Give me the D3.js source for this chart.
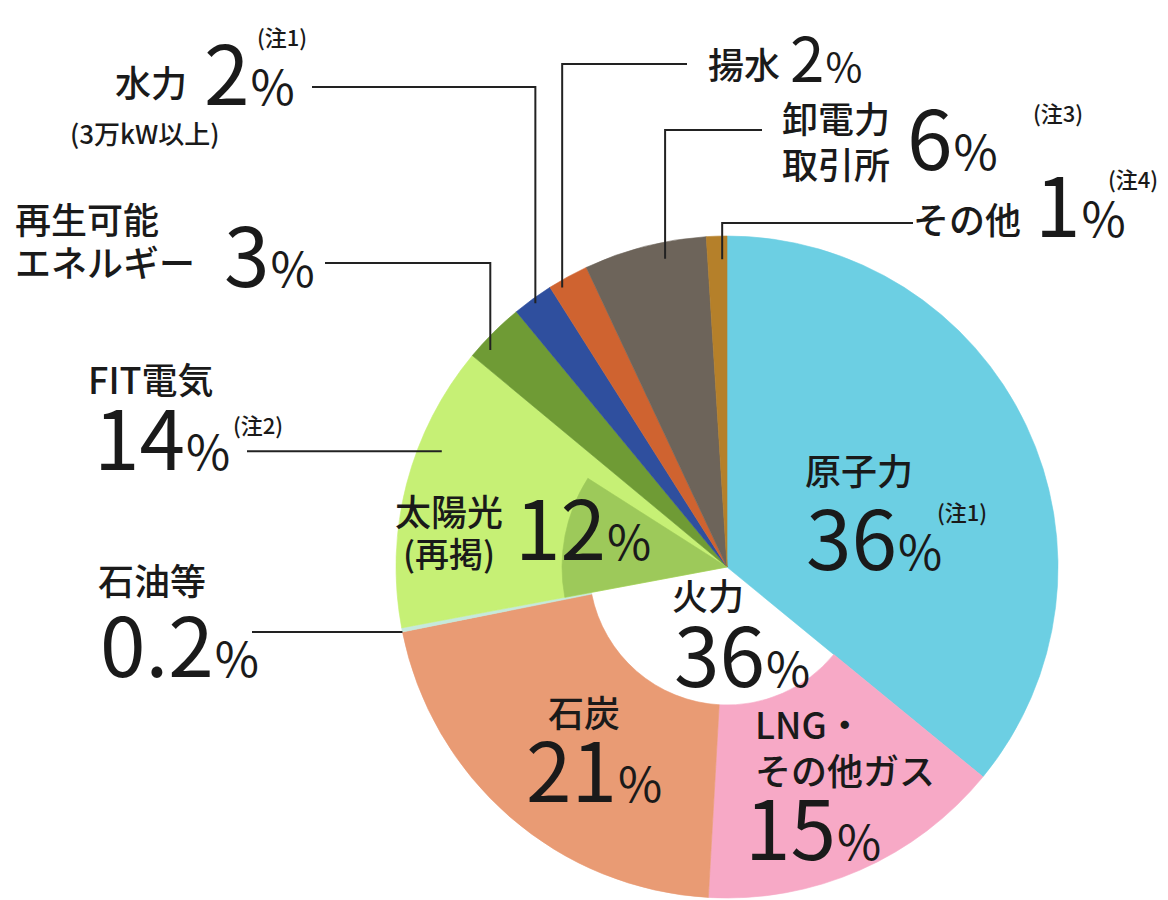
<!DOCTYPE html>
<html lang="ja">
<head>
<meta charset="utf-8">
<script src="https://cdn.jsdelivr.net/npm/d3@7"></script>
<style>
  body { margin: 0; background: #fff; }
  svg text { font-family: "Noto Sans CJK JP", "Noto Sans", sans-serif; fill: #1a1a1a; }
</style>
</head>
<body>
<div id="chart"></div>
<script>
// 電源構成 (clockwise from 12 o'clock)
const sources = ["原子力", "LNG・その他ガス", "石炭", "石油等", "FIT電気", "再生可能エネルギー", "水力", "揚水", "卸電力取引所", "その他"];
const shares = [36, 15, 21, 0.2, 14, 3, 2, 2, 6, 1];
const valueLabels = ["36", "15", "21", "0.2", "14", "3", "2", "2", "6", "1"];
const nameLines = [["原子力"], ["LNG・", "その他ガス"], ["石炭"], ["石油等"], ["FIT電気"], ["再生可能", "エネルギー"], ["水力"], ["揚水"], ["卸電力", "取引所"], ["その他"]];
const notes = ["(注1)", "", "", "", "(注2)", "", "(注1)", "", "(注3)", "(注4)"];
const colors = ["#6ccfe3", "#f7a9c6", "#e99b74", "#c6e9dc", "#c6f075", "#6f9b35", "#2f4f9e", "#cf6330", "#6d645a", "#b5802a"];

// 火力 = LNG + 石炭 + 石油等, shown as a hole in the middle
const fossilSources = ["LNG・その他ガス", "石炭", "石油等"];
const thermalLabel = "36";
// 太陽光 (再掲) inside FIT電気
const solarShare = 12;
const solarLabel = "12";
const solarColor = "#9dc95a";

const width = 1168, height = 900;
const cx = 727, cy = 567, R = 331, holeR = 138, solarR = 165;

// label layout, keyed by source
const layout = {
  "原子力":        { nx: 805, ny: [485], vx: 806, vy: 570, note: [937, 521] },
  "LNG・その他ガス": { nx: 755, ny: [739, 785], vx: 745, vy: 860 },
  "石炭":          { nx: 548, ny: [727], vx: 526, vy: 802 },
  "石油等":        { nx: 98, ny: [595], vx: 100, vy: 677, lead: { frac: 0.0, rad: 1.0, from: 252 } },
  "FIT電気":       { nx: 88, ny: [394], vx: 94, vy: 470, note: [233, 434], lead: { frac: 0.65, rad: 0.93, from: 247 } },
  "再生可能エネルギー": { nx: 15, ny: [234, 277], vx: 224, vy: 287, lead: { frac: 0.26, rad: 0.97, from: 325, y: 263 } },
  "水力":          { nx: 115, ny: [97], vx: 204, vy: 105, note: [257, 46], sub: [70, 144], lead: { frac: 0.49, rad: 0.985, from: 312, y: 87 } },
  "揚水":          { nx: 708, ny: [79], vx: 790, vy: 82, small: true, lead: { frac: 0.25, rad: 0.98, from: 687, y: 64 } },
  "卸電力取引所":    { nx: 782, ny: [133, 179], vx: 907, vy: 170, note: [1033, 122], lead: { frac: 0.64, rad: 0.95, from: 762, y: 130 } },
  "その他":        { nx: 913, ny: [234], vx: 1035, vy: 237, note: [1108, 188], lead: { frac: 0.75, rad: 0.93, from: 913, y: 223 } }
};

const svg = d3.select("#chart")
      .append("svg")
      .attr("width", width)
      .attr("height", height);

const data = sources.map((s, i) => ({ name: s, share: shares[i], color: colors[i], i: i }));
const pie = d3.pie().sort(null).value(d => d.share);
const arcs = pie(data);
const total = d3.sum(shares);
const angle = d3.scaleLinear().domain([0, total]).range([0, 2 * Math.PI]);
const arc = d3.arc();

const g = svg.append("g").attr("transform", `translate(${cx},${cy})`);

g.selectAll("path.slice")
    .data(arcs)
    .join("path")
    .attr("class", "slice")
    .attr("d", d => arc({
        innerRadius: fossilSources.includes(d.data.name) ? holeR : 0,
        outerRadius: R,
        startAngle: d.startAngle,
        endAngle: d.endAngle }))
    .attr("fill", d => d.data.color)
    .attr("stroke", d => d.data.color)
    .attr("stroke-width", 0.6);

// 太陽光 sector inside FIT
const fit = arcs[sources.indexOf("FIT電気")];
g.append("path")
    .attr("d", arc({ innerRadius: 0, outerRadius: solarR,
                     startAngle: fit.startAngle,
                     endAngle: fit.startAngle + angle(solarShare) }))
    .attr("fill", solarColor)
    .attr("stroke", solarColor)
    .attr("stroke-width", 0.6);

function polar(a, r) {
    return [cx + r * Math.sin(a), cy - r * Math.cos(a)];
}

// leader lines
const leaders = svg.append("g")
      .attr("fill", "none")
      .attr("stroke", "#222")
      .attr("stroke-width", 2);

arcs.forEach(d => {
    const L = layout[d.data.name].lead;
    if (!L) return;
    const a = d.startAngle + L.frac * (d.endAngle - d.startAngle);
    const [ax, ay] = polar(a, L.rad * R);
    let pts;
    if (L.y === undefined) pts = [[L.from, ay], [ax, ay]];
    else pts = [[L.from, L.y], [ax, L.y], [ax, ay]];
    leaders.append("path").attr("d", d3.line()(pts));
});

// text helpers
function valueText(x, y, num, big, pct) {
    const t = svg.append("text").attr("x", x).attr("y", y);
    t.append("tspan").attr("font-size", big).text(num);
    t.append("tspan").attr("font-size", pct).attr("dx", 1).text("%");
}
function nameText(x, ys, lines, size) {
    lines.forEach((ln, k) => {
        svg.append("text").attr("x", x).attr("y", ys[k])
            .attr("font-size", size).attr("font-weight", 500).text(ln);
    });
}

arcs.forEach(d => {
    const i = d.data.i;
    const p = layout[d.data.name];
    nameText(p.nx, p.ny, nameLines[i], 36);
    if (p.small) valueText(p.vx, p.vy, valueLabels[i], 62, 40);
    else valueText(p.vx, p.vy, valueLabels[i], 82, 48);
    if (p.note) {
        svg.append("text").attr("x", p.note[0]).attr("y", p.note[1])
            .attr("font-size", 22).attr("font-weight", 500).text(notes[i]);
    }
    if (p.sub) {
        svg.append("text").attr("x", p.sub[0]).attr("y", p.sub[1])
            .attr("font-size", 26).attr("font-weight", 500).text("(3万kW以上)");
    }
});

// 火力 total
nameText(672, [610], ["火力"], 36);
valueText(674, 687, thermalLabel, 82, 48);

// 太陽光 (再掲)
nameText(395, [526], ["太陽光"], 36);
nameText(403, [567], ["(再掲)"], 34);
valueText(515, 560, solarLabel, 82, 48);
</script>
</body>
</html>
